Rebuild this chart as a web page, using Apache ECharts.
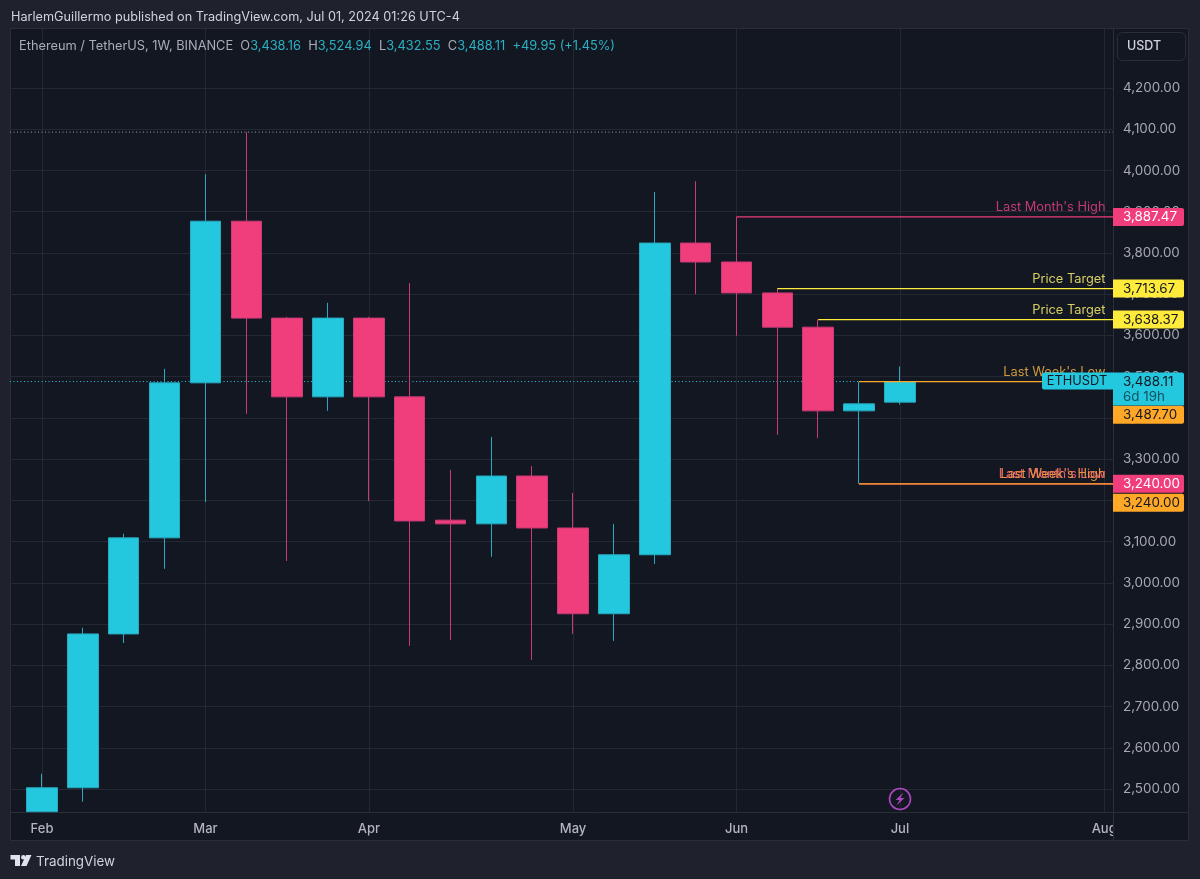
<!DOCTYPE html>
<html>
<head>
<meta charset="utf-8">
<title>ETHUSDT 1W</title>
<script src="https://cdn.jsdelivr.net/npm/echarts@6/dist/echarts.min.js"></script>
<style>
html, body { margin: 0; padding: 0; background: #1f222c; }
#main { width: 1200px; height: 879px; }
</style>
</head>
<body>
<div id="main"></div>
<script>
// weekly candles (first candle is cut by the bottom of the pane)
var opens  = [2445, 2503, 2876, 3109, 3485, 3877, 3642, 3451, 3642, 3451, 3152, 3143, 3259, 3133, 2925, 3068, 3824, 3778, 3703, 3620, 3417, 3438.16];
var closes = [2503, 2876, 3109, 3485, 3877, 3642, 3451, 3642, 3451, 3150, 3143, 3259, 3133, 2925, 3068, 3824, 3778, 3703, 3620, 3417, 3434, 3488.11];
var lows   = [2445, 2469, 2854, 3034, 3196, 3410, 3053, 3417, 3198, 2847, 2861, 3063, 2813, 2876, 2859, 3046, 3700, 3599, 3359, 3351, 3240, 3432.55];
var highs  = [2537, 2891, 3119, 3519, 3991, 4093, 3645, 3679, 3645, 3727, 3274, 3354, 3283, 3218, 3143, 3948, 3974, 3887.47, 3713.67, 3638.37, 3487.7, 3524.94];

var priceTicks = [2500, 2600, 2700, 2800, 2900, 3000, 3100, 3200, 3300, 3400, 3500, 3600, 3700, 3800, 3900, 4000, 4100, 4200];
var monthTicks = [0, 4, 8, 13, 17, 21, 26];
var monthNames = ['Feb', 'Mar', 'Apr', 'May', 'Jun', 'Jul', 'Aug'];

// levels drawn by the indicator: name, price, candle they start from
var levelNames  = ["Last Month's High", 'Price Target', 'Price Target', "Last Week's Low", "Last Month's Low", "Last Week's High"];
var levelPrices = [3887.47, 3713.67, 3638.37, 3487.70, 3240.00, 3240.00];
var levelStarts = [17, 18, 19, 20, 20, 20];

var allTimeHigh = 4093;
var lastPrice = 3488.11;

var UP = '#24c8de', DOWN = '#ef3e7b', PINK = '#ef3e7b', YELLOW = '#ffeb3b', ORANGE = '#ffa726';
var levelColors = [PINK, YELLOW, YELLOW, ORANGE, PINK, ORANGE];
var levelTextColors = ['#c23a72', '#d6cf63', '#d6cf63', '#d09a3c', '#ea5a80', '#ea9040'];
var tagTextColors = ['#ffffff', '#131722', '#131722', '#131722', '#ffffff', '#131722'];
// the orange tags get pushed below their neighbour on the price scale
var tagShift = [0, 0, 0, 33, 0, 19];

var PANE = '#131722', BORDER = '#2a2e39', GRID = '#232833', FONT = 'Inter, "Noto Sans", sans-serif';
var X_MIN = -0.783, X_MAX = 26.24;

function fmt(v) {
    return v.toLocaleString('en-US', { minimumFractionDigits: 2, maximumFractionDigits: 2 });
}

var candleData = opens.map(function (o, i) {
    return [i, o, closes[i], lows[i], highs[i]];
});

var chart = echarts.init(document.getElementById('main'));

function levelSeries(i) {
    return {
        type: 'line', silent: true, symbol: 'none', z: 4, animation: false,
        data: [[levelStarts[i], levelPrices[i]], [X_MAX, levelPrices[i]]],
        lineStyle: { color: levelColors[i], width: 1.2 }
    };
}

function dottedSeries(price, color) {
    return {
        type: 'line', silent: true, symbol: 'none', z: 1, animation: false,
        data: [[X_MIN, price], [X_MAX, price]],
        lineStyle: { color: color, width: 1, type: [1, 2.5] }
    };
}

var last = opens.length - 1;
var change = closes[last] - opens[last];

var option = {
    backgroundColor: '#1f222c',
    animation: false,
    title: [{
        left: 11, top: 11, padding: 0,
        text: 'HarlemGuillermo published on TradingView.com, Jul 01, 2024 01:26 UTC-4',
        textStyle: { color: '#d1d4dc', fontSize: 12.7, fontWeight: 'normal', fontFamily: FONT }
    }, {
        left: 19, top: 40, padding: 0,
        text: '{g|Ethereum / TetherUS, 1W, BINANCE  O}{v|' + fmt(opens[last]) + '}{g|  H}{v|' + fmt(highs[last]) +
            '}{g|  L}{v|' + fmt(lows[last]) + '}{g|  C}{v|' + fmt(closes[last]) +
            '}{v|  +' + fmt(change) + ' (+1.45%)}',
        textStyle: {
            fontSize: 12.8, fontWeight: 'normal', fontFamily: FONT,
            rich: {
                g: { color: '#a9adb8', fontSize: 12.8, fontFamily: FONT },
                v: { color: '#2bb0c4', fontSize: 12.8, fontFamily: FONT }
            }
        }
    }],
    grid: { left: 10, right: 86, top: 29, bottom: 67 },
    xAxis: {
        type: 'value', min: X_MIN, max: X_MAX,
        axisLine: { show: false },
        axisTick: { show: false, customValues: monthTicks },
        splitLine: { show: true, lineStyle: { color: GRID, width: 1 } },
        axisLabel: {
            customValues: monthTicks, margin: 11, color: '#b2b5be', fontSize: 13, fontWeight: 500, fontFamily: FONT,
            hideOverlap: false, showMinLabel: true, showMaxLabel: true,
            formatter: function (v) { return monthNames[monthTicks.indexOf(v)]; }
        }
    },
    yAxis: {
        type: 'value', position: 'right', min: 2444.2, max: 4343.1, scale: true,
        axisLine: { show: false },
        axisTick: { show: false, customValues: priceTicks },
        splitLine: { show: true, lineStyle: { color: GRID, width: 1 } },
        axisLabel: {
            customValues: priceTicks, margin: 9, color: '#a6a9b3', fontSize: 13.4, fontFamily: FONT, padding: [2, 0, 0, 0],
            formatter: function (v) { return fmt(v); }
        }
    },
    series: [
        dottedSeries(allTimeHigh, '#9a9ea8'),
        dottedSeries(lastPrice, UP),
        {
            type: 'candlestick', z: 3, barWidth: 31, animation: false, silent: true,
            encode: { x: 0, y: [1, 2, 3, 4] },
            data: candleData,
            itemStyle: { color: UP, color0: DOWN, borderColor: '#28a9bf', borderColor0: '#c93a76', borderWidth: 1 }
        },
        levelSeries(0), levelSeries(1), levelSeries(2), levelSeries(3), levelSeries(4), levelSeries(5),
        {
            // level captions and their tags on the price scale
            type: 'custom', z: 6, silent: true, animation: false, clip: false,
            data: levelPrices.map(function (p, i) { return [X_MAX, p, i]; }),
            encode: { x: 0, y: 1 },
            renderItem: function (params, api) {
                var i = api.value(2);
                var pt = api.coord([X_MAX, api.value(1)]);
                var yc = pt[1] + tagShift[i];
                return {
                    type: 'group',
                    children: [{
                        type: 'text',
                        style: {
                            text: levelNames[i], x: 1105.5, y: pt[1] - 3, align: 'right', verticalAlign: 'bottom',
                            fill: levelTextColors[i], font: '12.8px ' + FONT
                        }
                    }, {
                        type: 'rect',
                        shape: { x: 1113, y: yc - 9, width: 71, height: 18, r: [0, 2, 2, 0] },
                        style: { fill: levelColors[i] }
                    }, {
                        type: 'text',
                        style: {
                            text: fmt(levelPrices[i]), x: 1123, y: yc + 0.5, align: 'left', verticalAlign: 'middle',
                            fill: tagTextColors[i], font: '13.4px ' + FONT
                        }
                    }]
                };
            }
        },
        {
            // current price tag with symbol flag and time left in the bar
            type: 'custom', z: 7, silent: true, animation: false, clip: false,
            data: [[X_MAX, lastPrice]],
            encode: { x: 0, y: 1 },
            renderItem: function (params, api) {
                var y = api.coord([X_MAX, api.value(1)])[1];
                return {
                    type: 'group',
                    children: [{
                        type: 'rect', shape: { x: 1042, y: y - 9, width: 71, height: 17, r: [2, 0, 0, 2] }, style: { fill: UP }
                    }, {
                        type: 'text',
                        style: { text: 'ETHUSDT', x: 1077, y: y, align: 'center', verticalAlign: 'middle', fill: '#131722', font: '12.8px ' + FONT }
                    }, {
                        type: 'rect', shape: { x: 1113, y: y - 9, width: 71, height: 33, r: [0, 2, 0, 0] }, style: { fill: UP }
                    }, {
                        type: 'text',
                        style: { text: fmt(api.value(1)), x: 1123, y: y, align: 'left', verticalAlign: 'middle', fill: '#131722', font: '13.4px ' + FONT }
                    }, {
                        type: 'text',
                        style: { text: '6d 19h', x: 1123, y: y + 15.5, align: 'left', verticalAlign: 'middle', fill: '#14505f', font: '13.4px ' + FONT }
                    }]
                };
            }
        }
    ],
    graphic: [
        { type: 'rect', z: -10, silent: true, shape: { x: 10.5, y: 28.5, width: 1178, height: 812 }, style: { fill: PANE, stroke: BORDER, lineWidth: 1 } },
        { type: 'line', z: 1, silent: true, shape: { x1: 10.5, y1: 812.5, x2: 1188.5, y2: 812.5 }, style: { stroke: BORDER, lineWidth: 1 } },
        // price scale covers the tail of the last month label
        { type: 'rect', z: 2, silent: true, shape: { x: 1114, y: 813, width: 74, height: 27 }, style: { fill: PANE } },
        { type: 'line', z: 3, silent: true, shape: { x1: 1113.5, y1: 28.5, x2: 1113.5, y2: 840.5 }, style: { stroke: BORDER, lineWidth: 1 } },
        { type: 'rect', z: 3, silent: true, shape: { x: 1117.5, y: 32.5, width: 68, height: 28, r: 5 }, style: { fill: PANE, stroke: BORDER, lineWidth: 1 } },
        { type: 'text', z: 4, silent: true, style: { text: 'USDT', x: 1127, y: 46.5, verticalAlign: 'middle', fill: '#d1d4dc', font: '500 12.5px ' + FONT } },
        // replay bolt marker
        { type: 'circle', z: 5, silent: true, shape: { cx: 900, cy: 799, r: 10.5 }, style: { fill: 'none', stroke: '#ab47bc', lineWidth: 1.6 } },
        { type: 'polygon', z: 5, silent: true, shape: { points: [[903.5, 792.5], [895.5, 800], [899.5, 800], [896.5, 805.5], [904.5, 798], [900.5, 798]] }, style: { fill: '#ab47bc' } },
        // TradingView logo
        { type: 'polygon', z: 5, silent: true, shape: { points: [[10.5, 855], [20, 855], [20, 866], [15, 866], [15, 859.5], [10.5, 859.5]] }, style: { fill: '#e0e3eb' } },
        { type: 'circle', z: 5, silent: true, shape: { cx: 23.3, cy: 857.2, r: 2.2 }, style: { fill: '#e0e3eb' } },
        { type: 'polygon', z: 5, silent: true, shape: { points: [[26, 855], [31.5, 855], [26.5, 866], [21, 866]] }, style: { fill: '#e0e3eb' } },
        { type: 'text', z: 5, silent: true, style: { text: 'TradingView', x: 36, y: 861.5, verticalAlign: 'middle', fill: '#d1d4dc', font: '13.4px ' + FONT } }
    ]
};

chart.setOption(option);
</script>
</body>
</html>
